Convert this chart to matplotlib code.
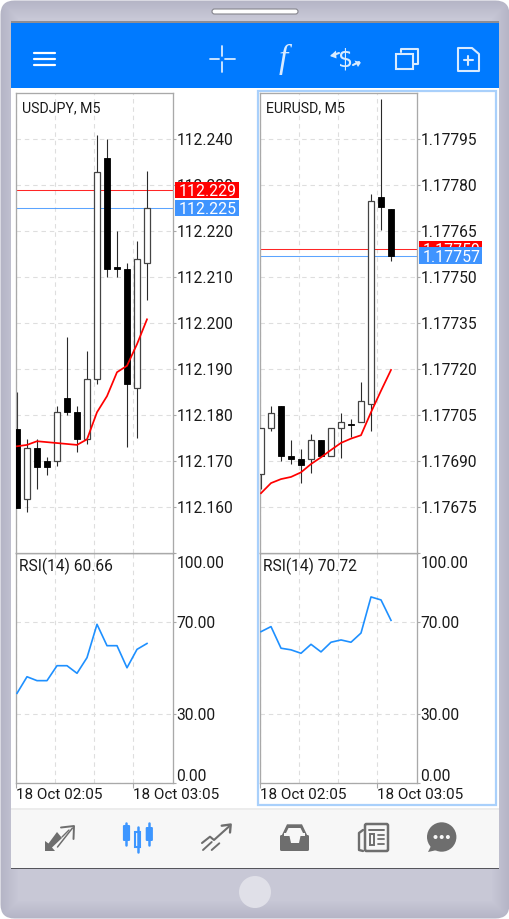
"""Two-panel mobile trading screen: USDJPY and EURUSD M5 candles with RSI(14)."""

import matplotlib

matplotlib.use("Agg")
import matplotlib.pyplot as plt
import numpy as np
from matplotlib.patches import Circle, FancyBboxPatch, Polygon, Rectangle
from matplotlib.transforms import ScaledTranslation

W, H = 510, 919

plt.rcParams["font.family"] = ["Roboto", "DejaVu Sans"]

# USDJPY M5
jpy_high = [112.1849, 112.1748, 112.1748, 112.1709, 112.1820, 112.1969, 112.1820,
            112.1939, 112.2409, 112.2399, 112.2199, 112.2130, 112.2179, 112.2330]
jpy_low = [112.1598, 112.1590, 112.1640, 112.1670, 112.1690, 112.1800, 112.1720,
           112.1738, 112.1868, 112.2101, 112.2101, 112.1730, 112.1750, 112.2050]
jpy_open = [112.1769, 112.1618, 112.1728, 112.1699, 112.1699, 112.1838, 112.1807,
            112.1747, 112.1878, 112.2359, 112.2122, 112.2118, 112.1858, 112.2130]
jpy_close = [112.1598, 112.1728, 112.1688, 112.1688, 112.1807, 112.1807, 112.1747,
             112.1878, 112.2329, 112.2118, 112.2118, 112.1867, 112.2139, 112.2249]
jpy_ma = [112.1732, 112.1735, 112.1743, 112.1741, 112.1739, 112.1737, 112.1735,
          112.1747, 112.1806, 112.1841, 112.1893, 112.1907, 112.1954, 112.2008]
jpy_rsi = [39.0, 46.2, 44.5, 44.5, 51.0, 51.0, 47.7, 54.5, 69.0, 59.7, 59.7, 50.1, 58.1, 60.66]
jpy_ticks = [112.160, 112.170, 112.180, 112.190, 112.200, 112.210, 112.220, 112.230, 112.240]

# EURUSD M5
eur_high = [1.177008, 1.177078, 1.177078, 1.176967, 1.176939, 1.176988, 1.176967,
            1.177008, 1.177058, 1.177038, 1.177158, 1.177771, 1.178080, 1.177721]
eur_low = [1.176809, 1.176998, 1.176899, 1.176889, 1.176829, 1.176861, 1.176916,
           1.176916, 1.176909, 1.176977, 1.177027, 1.176999, 1.177652, 1.177551]
eur_open = [1.176858, 1.177007, 1.177078, 1.176917, 1.176907, 1.176907, 1.176967,
            1.176916, 1.177008, 1.177020, 1.177027, 1.177086, 1.177760, 1.177721]
eur_close = [1.177008, 1.177058, 1.176916, 1.176907, 1.176887, 1.176967, 1.176916,
             1.177008, 1.177027, 1.177016, 1.177097, 1.177748, 1.177728, 1.177570]
eur_ma = [1.176795, 1.176828, 1.176841, 1.176848, 1.176863, 1.176890, 1.176912,
          1.176936, 1.176959, 1.176973, 1.176984, 1.177059, 1.177129, 1.177197]
eur_rsi = [65.8, 68.0, 58.6, 57.9, 56.4, 60.3, 57.0, 61.2, 62.2, 61.2, 65.2, 80.9, 79.6, 70.72]
eur_ticks = [1.17675, 1.17690, 1.17705, 1.17720, 1.17735, 1.17750, 1.17765, 1.17780, 1.17795]

rsi_ticks = [0, 30, 70, 100]
time_labels = ["18 Oct 02:05", "18 Oct 03:05"]
time_pos = [-0.1, 11.6]
grid_pos = [3.8, 7.7]

SPINE = "#a9a9a9"
GRID = "#dedede"
RED = "#ff0000"
BLUE = "#3f94ff"
RSI_BLUE = "#1e90ff"
ICON = "#6e6e6e"
ICON_BLUE = "#3d96ff"
HEADER = "#007aff"
TAB_BG = "#f7f7f7"


def px_axes(fig, left, top, right, bottom, **kw):
    return fig.add_axes([left / W, 1 - bottom / H, (right - left) / W, (bottom - top) / H], **kw)


def style_panel(ax):
    ax.set_xlim(-0.1, 15.6)
    ax.set_xticks(time_pos)
    ax.set_xticks(grid_pos, minor=True)
    ax.grid(True, which="both", color=GRID, lw=0.8, ls=(0, (4, 3.5)))
    ax.set_axisbelow(True)
    ax.yaxis.tick_right()
    ax.tick_params(axis="y", length=2, width=0.8, color=SPINE, pad=0.5, labelsize=11.2,
                   labelcolor="#1a1a1a")
    ax.tick_params(axis="x", which="minor", length=0)
    ax.set_facecolor("white")
    for side in ax.spines:
        ax.spines[side].set_color(SPINE)
        ax.spines[side].set_linewidth(0.95)


def draw_candles(ax, opens, closes, highs, lows):
    x = np.arange(len(opens))
    opens, closes = np.array(opens), np.array(closes)
    ax.vlines(x, lows, highs, color="#2a2a2a", lw=0.8, zorder=2)
    up = closes >= opens
    ax.bar(x[up], (closes - opens)[up], bottom=opens[up], width=0.58, color="white",
           edgecolor="#444444", lw=0.9, zorder=3)
    ax.bar(x[~up], (closes - opens)[~up], bottom=opens[~up], width=0.58, color="black",
           edgecolor="black", lw=0.6, zorder=3)


def price_tag(ax, value, text, color, z):
    # the bid/ask lines run behind the candles
    ax.axhline(value, color=color, lw=0.75, zorder=1.5, alpha=0.85)
    lo, hi = ax.get_ylim()
    half = 8.1 / 460 * (hi - lo)
    ax.add_patch(Rectangle((1 + 2 / 157, value - half), 63.5 / 157, 2 * half, fc=color, ec="none",
                           transform=ax.get_yaxis_transform(), clip_on=False, zorder=z))
    ax.text(1 + 5.5 / 157, value, text, transform=ax.get_yaxis_transform(), color="white",
            fontsize=11.4, va="center_baseline", ha="left", zorder=z + 0.1, clip_on=False)


def panel(fig, left, right, title, opens, closes, highs, lows, ma, rsi, ticks, ylim, fmt,
          bid, ask, rsi_text):
    ax = px_axes(fig, left, 93, right, 553, zorder=3)
    style_panel(ax)
    ax.set_ylim(*ylim)
    ax.set_yticks(ticks)
    ax.set_yticklabels([fmt.format(t) for t in ticks])
    ax.tick_params(axis="x", length=0, labelbottom=False)
    draw_candles(ax, opens, closes, highs, lows)
    ax.plot(range(len(ma)), ma, color=RED, lw=1.25, zorder=5)
    price_tag(ax, bid, fmt.format(bid), RED, 6)
    price_tag(ax, ask, fmt.format(ask), BLUE, 7)
    ax.text(6 / 157, 1 - 15 / 460, title, transform=ax.transAxes, fontsize=10.2, va="center",
            color="#1a1a1a", zorder=8)

    rx = px_axes(fig, left, 553, right, 783, zorder=2)
    style_panel(rx)
    rx.set_ylim(0, 100)
    rx.set_yticks(rsi_ticks)
    rx.set_yticklabels([f"{t:.2f}" for t in rsi_ticks])
    rx.set_xticklabels(time_labels, ha="left")
    rx.tick_params(axis="x", which="major", length=3.8, width=0.8, color=SPINE, pad=0,
                   labelsize=11.0, labelcolor="#1a1a1a")
    rx.spines["top"].set_color("#777777")
    labels = rx.get_yticklabels()
    labels[0].set_transform(labels[0].get_transform()
                            + ScaledTranslation(0, 8 / 100, fig.dpi_scale_trans))
    labels[-1].set_transform(labels[-1].get_transform()
                             + ScaledTranslation(0, -9 / 100, fig.dpi_scale_trans))
    rx.plot(range(len(rsi)), rsi, color=RSI_BLUE, lw=1.2, zorder=4)
    rx.text(3 / 157, 1 - 13 / 230, rsi_text, transform=rx.transAxes, fontsize=11.2, va="center",
            color="#1a1a1a")


def line(ov, xs, ys, color, lw=1.5, **kw):
    ov.plot(xs, ys, color=color, lw=lw, solid_capstyle=kw.pop("cap", "round"), **kw)


def draw_device(ov):
    # soft bezel shading, darker towards the outer edge
    yy, xx = np.mgrid[0:H, 0:W]
    edge = np.minimum.reduce([xx, W - 1 - xx, yy, H - 1 - yy]) / 18.0
    shade = np.clip(edge, 0, 1)[..., None]
    img = np.array([0xb4, 0xb4, 0xc6]) + shade * np.array([0x14, 0x14, 0x10])
    body = FancyBboxPatch((0.5, 0.5), W - 1, H - 1, boxstyle="round,pad=0,rounding_size=14",
                          fc="none", ec="none")
    ov.add_patch(body)
    im = ov.imshow(img.astype(np.uint8), extent=(0, W, H, 0), aspect="auto", zorder=0)
    im.set_clip_path(body)

    ov.add_patch(Rectangle((11, 22), 488, 846, fc="white", ec="none"))
    ov.add_patch(Rectangle((11, 21), 488, 2, fc="#8d8d94", ec="none"))
    ov.add_patch(Rectangle((11, 23), 488, 64.5, fc=HEADER, ec="none"))
    ov.add_patch(Rectangle((11, 808), 488, 2, fc="#ececec", ec="none"))
    ov.add_patch(Rectangle((11, 810), 488, 58, fc=TAB_BG, ec="none"))
    ov.add_patch(Rectangle((11, 868), 488, 1.2, fc="#55555c", ec="none"))
    ov.add_patch(FancyBboxPatch((212, 9), 86, 5, boxstyle="round,pad=0,rounding_size=2.5",
                                fc="white", ec="#85858d", lw=0.8))
    ov.add_patch(Circle((255, 892), 16, fc="#e0e0e8", ec="none"))
    ov.add_patch(Rectangle((258, 91), 238, 714, fc="none", ec="#a9d0fb", lw=1.6))


def draw_header_icons(ov):
    for y in (53, 59, 65):
        line(ov, [34, 55], [y, y], "white", 1.6)
    c = "#d9ebff"
    line(ov, [210, 219], [59, 59], c, 1.3)
    line(ov, [225, 235], [59, 59], c, 1.3)
    line(ov, [222, 222], [46, 56], c, 1.3)
    line(ov, [222, 222], [62, 72], c, 1.3)
    ov.text(283, 59, "f", family="Liberation Serif", style="italic", fontsize=24, color=c,
            ha="center", va="center")
    ov.text(346, 59, "$", family="DejaVu Sans", fontsize=17, color=c, ha="center", va="center")
    line(ov, [332, 339], [55.5, 53], c, 1.5)
    ov.add_patch(Polygon([[330, 56], [336, 50.5], [336.5, 58.5]], fc=c, ec="none"))
    line(ov, [353, 359], [65, 62], c, 1.5)
    ov.add_patch(Polygon([[361, 62.5], [354.5, 60.5], [358, 67]], fc=c, ec="none"))
    ov.add_patch(Rectangle((396, 54), 17, 15, fc="none", ec=c, lw=1.5))
    line(ov, [401, 401, 418, 418, 414], [52, 49, 49, 64, 64], c, 1.5)
    ov.add_patch(Polygon([[458, 48], [472, 48], [479, 54], [479, 71], [458, 71]], closed=True,
                         fc="none", ec=c, lw=1.5, joinstyle="round"))
    line(ov, [464, 473], [60, 60], c, 1.5)
    line(ov, [468.5, 468.5], [56, 65], c, 1.5)


def draw_tab_icons(ov):
    # quotes
    ov.add_patch(Polygon([[45, 851], [45, 841], [48.5, 843.5], [57, 832], [62, 838], [52, 847.5],
                          [55, 851]], fc=ICON, ec="none"))
    line(ov, [57.5, 72.5], [847, 828], ICON, 1.1)
    line(ov, [61, 74, 73.5], [827.5, 826, 839], ICON, 1.4)
    line(ov, [62, 69], [837, 830], ICON, 1.0)

    # chart (selected)
    for x, top, bot, wt, wb, hollow in ((126.5, 825, 841, 823, 845, False),
                                        (137.7, 832, 847, 827, 852, True),
                                        (149.3, 827, 841, 823, 845, False)):
        line(ov, [x, x], [wt, wb], ICON_BLUE, 1.8)
        if hollow:
            ov.add_patch(Rectangle((x - 2.6, top), 5.2, bot - top, fc=TAB_BG, ec=ICON_BLUE, lw=1.5))
        else:
            ov.add_patch(FancyBboxPatch((x - 3.6, top), 7.2, bot - top,
                                        boxstyle="round,pad=0,rounding_size=1.2", fc=ICON_BLUE,
                                        ec="none"))

    # trade
    line(ov, [202, 210, 214, 229], [843, 836.7, 840, 826.5], ICON, 1.5)
    line(ov, [221.7, 230.7, 230], [825.7, 824.5, 832.5], ICON, 1.7)
    line(ov, [203, 211.7], [850, 842], ICON, 1.4)
    line(ov, [211.7, 219.3], [850, 843.3], ICON, 1.4)

    # mail tray
    ov.add_patch(FancyBboxPatch((280, 835), 29, 16, boxstyle="round,pad=0,rounding_size=1.5",
                                fc=ICON, ec="none"))
    ov.add_patch(Polygon([[281, 837], [287, 824.3], [302, 824.3], [308, 837]], fc=ICON, ec="none",
                         joinstyle="round"))
    ov.add_patch(Polygon([[284.5, 836], [288.5, 828], [300.5, 828], [304.5, 836]], fc=TAB_BG, ec="none"))
    ov.add_patch(Polygon([[284, 836], [289.5, 836], [291, 843], [299, 843], [300.5, 836], [305, 836],
                          [305, 833], [284, 833]], fc=TAB_BG, ec="none"))

    # news
    ov.add_patch(FancyBboxPatch((365, 824), 23, 27, boxstyle="round,pad=0,rounding_size=1.5",
                                fc="none", ec=ICON, lw=1.8))
    line(ov, [363, 359, 359, 363], [830, 833, 850, 851], ICON, 1.7)
    line(ov, [369.5, 384], [830, 830], ICON, 1.4)
    ov.add_patch(Rectangle((370, 834), 4.5, 11, fc="none", ec=ICON, lw=1.4))
    for y in (835, 839, 843.5):
        line(ov, [378, 384], [y, y], ICON, 1.3)

    # chat
    ov.add_patch(Circle((441.7, 837), 14.7, fc=ICON, ec="none"))
    ov.add_patch(Polygon([[431, 846], [428, 852], [437, 850]], fc=ICON, ec="none"))
    for x in (435.5, 441.7, 447.9):
        ov.add_patch(Circle((x, 837), 2, fc=TAB_BG, ec="none"))


def main():
    fig = plt.figure(figsize=(W / 100, H / 100), dpi=100, facecolor="white")

    ov = fig.add_axes([0, 0, 1, 1], zorder=1)
    draw_device(ov)
    ov.set_xlim(0, W)
    ov.set_ylim(H, 0)
    ov.axis("off")

    panel(fig, 16, 173, "USDJPY, M5", jpy_open, jpy_close, jpy_high, jpy_low, jpy_ma, jpy_rsi,
          jpy_ticks, (112.150, 112.250), "{:.3f}", 112.229, 112.225, "RSI(14) 60.66")
    panel(fig, 260, 417, "EURUSD, M5", eur_open, eur_close, eur_high, eur_low, eur_ma, eur_rsi,
          eur_ticks, (1.17660, 1.17810), "{:.5f}", 1.17759, 1.17757, "RSI(14) 70.72")

    top = fig.add_axes([0, 0, 1, 1], zorder=10)
    top.set_xlim(0, W)
    top.set_ylim(H, 0)
    top.axis("off")
    draw_header_icons(top)
    draw_tab_icons(top)

    fig.savefig("out.png", dpi=100)


if __name__ == "__main__":
    main()
